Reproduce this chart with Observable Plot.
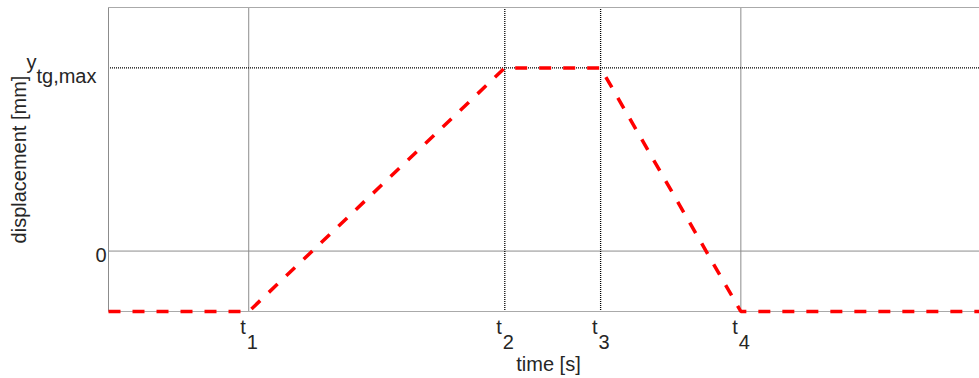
<!DOCTYPE html>
<html><head><meta charset="utf-8">
<script src="https://cdn.jsdelivr.net/npm/d3@7"></script>
<script src="https://cdn.jsdelivr.net/npm/@observablehq/plot@0.6"></script>
<style>body{margin:0;background:#fff} svg{display:block}</style>
</head><body><div id="chart"></div>
<script>
// profile knots (time in arbitrary units, displacement relative to y_tg,max = 1)
const timeKnots = [0, 1.61, 4.55, 5.65, 7.26, 10];
const displacement = [-0.33, -0.33, 1, 1, -0.33, -0.33];
// axes
const xDomain = [0, 10];
const yDomain = [-0.33, 1.33];
const xTicks = [1.61, 4.55, 5.65, 7.26];
const xTickBase = ["t", "t", "t", "t"];
const xTickSub = ["1", "2", "3", "4"];
const solidXGrid = [1.61, 7.26];
const dottedXGrid = [4.55, 5.65];
const solidYGrid = [0];
const dottedYGrid = [1];
const yZeroLabel = ["0"];
const yMaxBase = ["y"];
const yMaxSub = ["tg,max"];
const xLabel = "time [s]";
const yLabel = "displacement [mm]";

const profile = timeKnots.map((t, i) => ({t, y: displacement[i]}));
const xTickTable = xTicks.map((v, i) => ({v, base: xTickBase[i], sub: xTickSub[i]}));

const font = "Liberation Sans, Arial, Helvetica, sans-serif";
const gray = "#8c8c8c";

const chart = Plot.plot({
  width: 979,
  height: 378,
  marginLeft: 108,
  marginRight: 0,
  marginTop: 7,
  marginBottom: 67,
  style: {fontFamily: font, fontSize: "20px", background: "#fff", color: "#262626"},
  x: {domain: xDomain, axis: null},
  y: {domain: yDomain, axis: null},
  marks: [
    Plot.ruleX(solidXGrid, {x: d => d, stroke: gray, strokeWidth: 1}),
    Plot.ruleY(solidYGrid, {y: d => d, stroke: gray, strokeWidth: 1}),
    Plot.ruleX(dottedXGrid, {x: d => d, stroke: "#000", strokeWidth: 1.3, strokeDasharray: "1,1"}),
    Plot.ruleY(dottedYGrid, {y: d => d, stroke: "#000", strokeWidth: 1.3, strokeDasharray: "1,1"}),
    // frame: left, top, bottom
    Plot.ruleX([xDomain[0]], {x: d => d, stroke: gray, strokeWidth: 1}),
    Plot.ruleY([yDomain[1]], {y: d => d, stroke: "#aaa", strokeWidth: 1}),
    Plot.ruleY([yDomain[0]], {y: d => d, stroke: "#aaa", strokeWidth: 1}),
    // profile
    Plot.line(profile, {x: "t", y: "y", stroke: "#ff0000", strokeWidth: 3.5, strokeDasharray: "12,12", strokeLinecap: "butt", strokeLinejoin: "miter"}),
    // x tick labels with subscripts
    Plot.text(xTickTable, {x: "v", text: "base", frameAnchor: "bottom", textAnchor: "end", lineAnchor: "middle", dx: -3, dy: 15.6, fill: "#262626"}),
    Plot.text(xTickTable, {x: "v", text: "sub", frameAnchor: "bottom", textAnchor: "start", lineAnchor: "middle", dx: -2, dy: 30.6, fill: "#262626"}),
    // y tick labels
    Plot.text(yZeroLabel, {y: () => 0, text: d => d, frameAnchor: "left", textAnchor: "end", lineAnchor: "middle", dx: -2, dy: 4.5, fill: "#262626"}),
    Plot.text(yMaxBase, {y: () => 1, text: d => d, frameAnchor: "left", textAnchor: "start", lineAnchor: "middle", dx: -82, dy: -5.4, fill: "#262626"}),
    Plot.text(yMaxSub, {y: () => 1, text: d => d, frameAnchor: "left", textAnchor: "end", lineAnchor: "middle", dx: -12, dy: 8.6, fill: "#262626"}),
    // axis titles
    Plot.text([xLabel], {frameAnchor: "bottom", text: d => d, textAnchor: "middle", lineAnchor: "middle", dx: 4.5, dy: 52.6, fill: "#262626"}),
    Plot.text([yLabel], {frameAnchor: "left", text: d => d, rotate: -90, textAnchor: "middle", lineAnchor: "middle", dx: -89.4, dy: 0, fill: "#262626"})
  ]
});
document.getElementById("chart").append(chart);
</script>
</body></html>
